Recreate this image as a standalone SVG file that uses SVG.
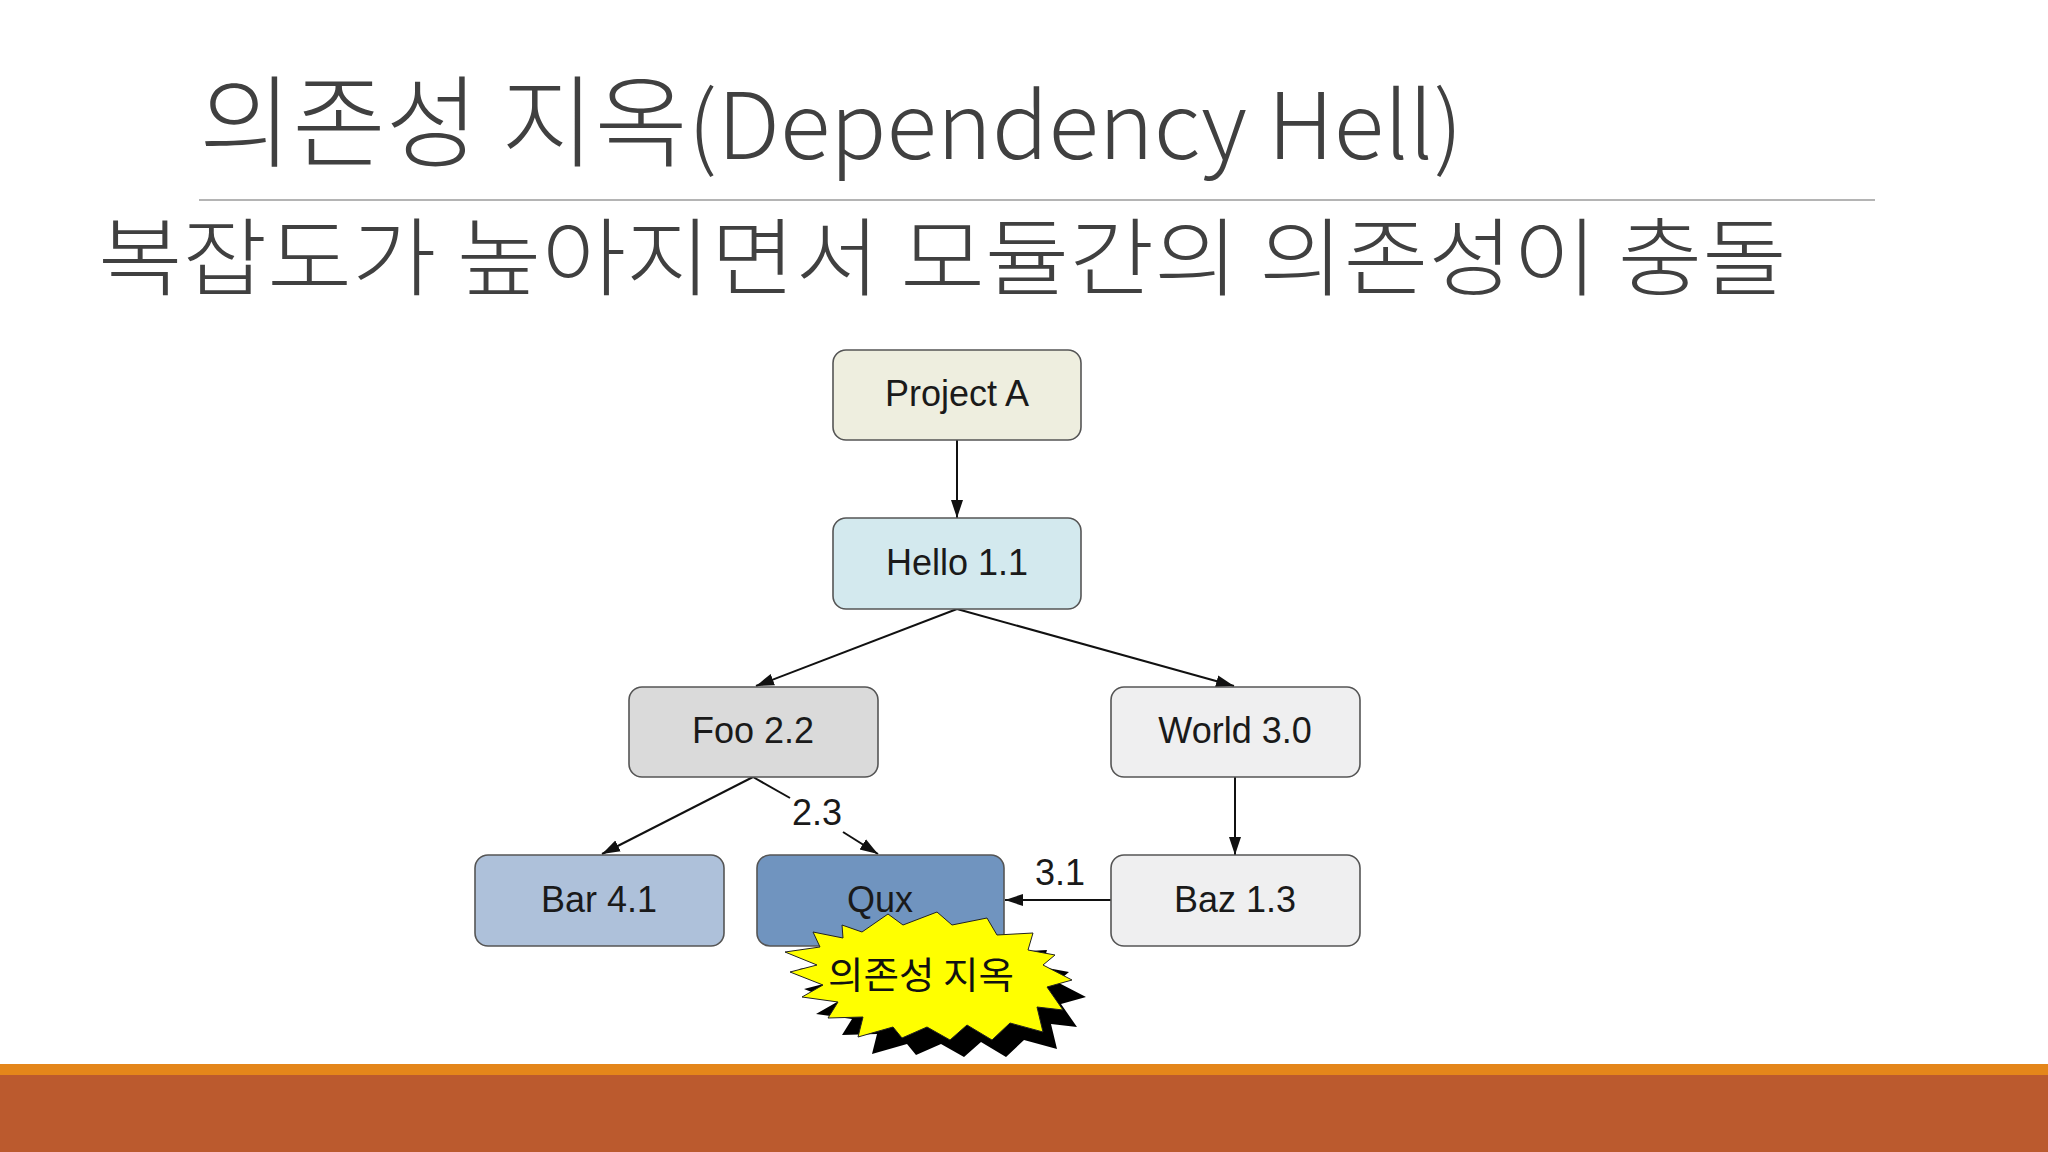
<svg xmlns="http://www.w3.org/2000/svg" width="2048" height="1152" viewBox="0 0 2048 1152">
  <defs>
    <marker id="ah" markerWidth="20" markerHeight="14" refX="18" refY="7" orient="auto" markerUnits="userSpaceOnUse">
      <path d="M0,1 L18,7 L0,13 z" fill="#111"/>
    </marker>
    <style>
      .box { stroke: #555; stroke-width: 1.6; }
      .lbl { font-family: "Liberation Sans", Arial, sans-serif; font-size: 36px; fill: #1a1a1a; text-anchor: middle; }
      .edge { stroke: #111; stroke-width: 2; fill: none; }
      .kr { font-family: "Noto Sans CJK KR", "Noto Sans", sans-serif; }
    </style>
  </defs>
  <rect width="2048" height="1152" fill="#ffffff"/>

  <g id="title">
    <text class="kr" x="199" y="159" fill="#404040" font-weight="300" textLength="1264" lengthAdjust="spacingAndGlyphs"><tspan font-size="100">의존성 지옥</tspan><tspan font-size="92">(Dependency Hell)</tspan></text>
    <line x1="199" y1="200" x2="1875" y2="200" stroke="#b4b4b4" stroke-width="2"/>
    <text class="kr" x="98" y="289" fill="#404040" font-weight="300" font-size="85" textLength="1689" lengthAdjust="spacingAndGlyphs">복잡도가 높아지면서 모듈간의 의존성이 충돌</text>
  </g>

  <g id="connectors">
    <line class="edge" x1="957" y1="440" x2="957" y2="518" marker-end="url(#ah)"/>
    <line class="edge" x1="957" y1="609" x2="756" y2="686" marker-end="url(#ah)"/>
    <line class="edge" x1="957" y1="609" x2="1234" y2="686" marker-end="url(#ah)"/>
    <line class="edge" x1="753" y1="777" x2="602" y2="854" marker-end="url(#ah)"/>
    <line class="edge" x1="753" y1="777" x2="790" y2="798"/>
    <line class="edge" x1="843" y1="832" x2="878" y2="854" marker-end="url(#ah)"/>
    <line class="edge" x1="1235" y1="777" x2="1235" y2="855" marker-end="url(#ah)"/>
    <line class="edge" x1="1111" y1="900" x2="1005" y2="900" marker-end="url(#ah)"/>
    <text class="lbl" x="817" y="825">2.3</text>
    <text class="lbl" x="1060" y="885">3.1</text>
  </g>

  <g id="node-project-a">
    <rect class="box" x="833" y="350" width="248" height="90" rx="13" fill="#eeeedf"/>
    <text class="lbl" x="957" y="406">Project A</text>
  </g>
  <g id="node-hello">
    <rect class="box" x="833" y="518" width="248" height="91" rx="13" fill="#d3e9ee"/>
    <text class="lbl" x="957" y="575">Hello 1.1</text>
  </g>
  <g id="node-foo">
    <rect class="box" x="629" y="687" width="249" height="90" rx="13" fill="#dadada"/>
    <text class="lbl" x="753" y="743">Foo 2.2</text>
  </g>
  <g id="node-world">
    <rect class="box" x="1111" y="687" width="249" height="90" rx="13" fill="#efeff0"/>
    <text class="lbl" x="1235" y="743">World 3.0</text>
  </g>
  <g id="node-bar">
    <rect class="box" x="475" y="855" width="249" height="91" rx="13" fill="#aec1da"/>
    <text class="lbl" x="599" y="912">Bar 4.1</text>
  </g>
  <g id="node-qux">
    <rect class="box" x="757" y="855" width="247" height="91" rx="13" fill="#7094bf"/>
    <text class="lbl" x="880" y="912">Qux</text>
  </g>
  <g id="node-baz">
    <rect class="box" x="1111" y="855" width="249" height="91" rx="13" fill="#efeff0"/>
    <text class="lbl" x="1235" y="912">Baz 1.3</text>
  </g>

  <g id="burst">
    <polygon transform="translate(14,17)" fill="#000" points="842,925 862,932 888,914 903,925 937,912 952,925 987,918 997,935 1033,933 1028,950 1055,955 1043,965 1072,980 1047,987 1063,1010 1037,1007 1043,1032 1010,1023 992,1040 967,1025 950,1040 927,1027 902,1038 893,1027 858,1037 863,1017 828,1018 838,1002 802,997 823,985 790,972 817,965 785,952 820,947 813,932 843,938"/>
    <polygon fill="#ffff00" stroke="#222" stroke-width="1" points="842,925 862,932 888,914 903,925 937,912 952,925 987,918 997,935 1033,933 1028,950 1055,955 1043,965 1072,980 1047,987 1063,1010 1037,1007 1043,1032 1010,1023 992,1040 967,1025 950,1040 927,1027 902,1038 893,1027 858,1037 863,1017 828,1018 838,1002 802,997 823,985 790,972 817,965 785,952 820,947 813,932 843,938"/>
    <text class="kr" x="828" y="989" font-size="37" fill="#111" textLength="186" lengthAdjust="spacingAndGlyphs">의존성 지옥</text>
  </g>

  <g id="footer">
    <rect x="0" y="1064" width="2048" height="11" fill="#e4861a"/>
    <rect x="0" y="1075" width="2048" height="77" fill="#bb5a2e"/>
  </g>
</svg>
